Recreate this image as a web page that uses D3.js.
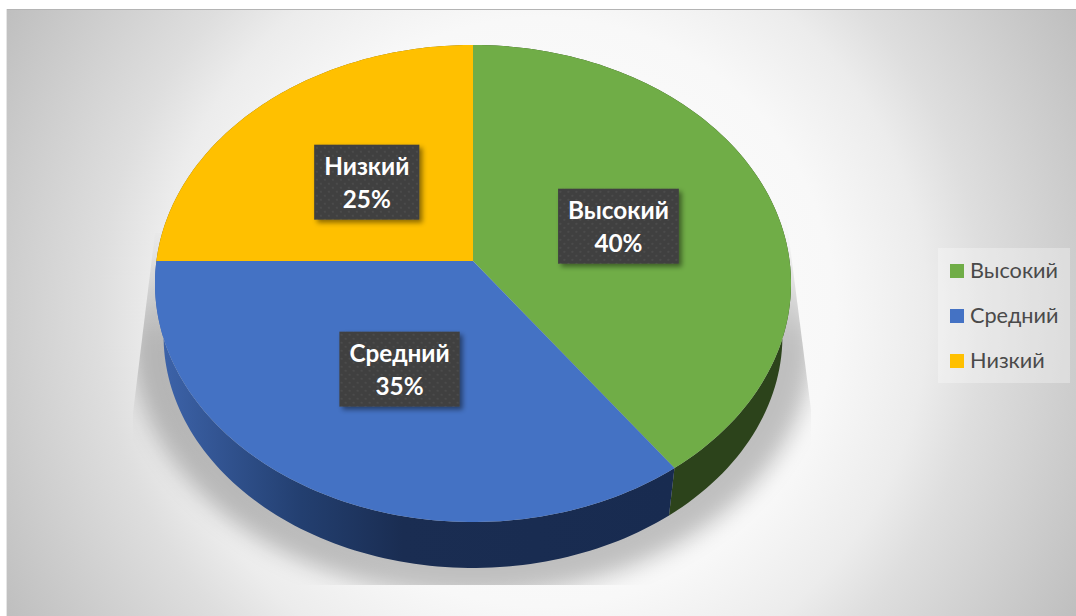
<!DOCTYPE html>
<html><head><meta charset="utf-8">
<script src="https://cdnjs.cloudflare.com/ajax/libs/d3/7.8.5/d3.min.js"></script>
<style>html,body{margin:0;padding:0;background:#fff;overflow:hidden}svg{display:block}</style>
</head><body>
<svg id="chart" width="1076" height="616"></svg>
<script>
const categories = ["Высокий", "Средний", "Низкий"];
const shares = [40, 35, 25];
const faceColors = ["#70ad47", "#4472c4", "#ffc000"];
const FONT = "Lato, 'Open Sans', 'Noto Sans', sans-serif";

const svg = d3.select("#chart");
const defs = svg.append("defs");
const color = d3.scaleOrdinal(categories, faceColors);

// Tilted disc: a projective map of the unit circle, so the slices meet off the ellipse centre.
const apex = { x: 473, y: 261 };
const tilt = 0.0943, radiusX = 316.6, radiusY = 236.4;
function rim(angle, frac = 1) {
  const u = Math.sin(angle) * frac, v = -Math.cos(angle) * frac, d = 1 - tilt * v;
  return [radiusX * u / d, radiusY * v / d];
}
const topPoint = (a, f) => { const [x, y] = rim(a, f); return [apex.x + x, apex.y + y]; };
const floorScale = 0.973, floorY = 314;
const floorPoint = a => { const [x, y] = rim(a); return [apex.x + x * floorScale, floorY + y * floorScale]; };

const slices = d3.pie().sort(null).startAngle(0).endAngle(2 * Math.PI)(shares)
  .map((s, i) => ({ ...s, name: categories[i] }));
const arcAngles = s => d3.range(0, 97).map(k => s.startAngle + (s.endAngle - s.startAngle) * k / 96);
const line = d3.line();

// Panel background
const bg = defs.append("radialGradient").attr("id", "panelFill")
  .attr("gradientUnits", "userSpaceOnUse").attr("cx", 541).attr("cy", 312).attr("r", 613);
[[0, "#ffffff"], [0.48, "#f8f8f8"], [0.63, "#ececec"], [0.72, "#dedede"], [1, "#bfbfbf"]]
  .forEach(([o, c]) => bg.append("stop").attr("offset", o).attr("stop-color", c));
svg.append("rect").attr("x", 6).attr("y", 9).attr("width", 1070).attr("height", 607).attr("fill", "url(#panelFill)");
svg.append("line").attr("x1", 6).attr("x2", 1076).attr("y1", 9.5).attr("y2", 9.5).attr("stroke", "#b4b4b4");
svg.append("line").attr("x1", 6.5).attr("x2", 6.5).attr("y1", 9).attr("y2", 616).attr("stroke", "#e6e6e6");

// Cast shadow: blurred, enlarged copy of the disc trimmed to a widening band
defs.append("filter").attr("id", "softShadow").attr("x", "-20%").attr("y", "-20%").attr("width", "140%").attr("height", "140%")
  .append("feGaussianBlur").attr("stdDeviation", 11);
defs.append("clipPath").attr("id", "shadowBand").append("polygon")
  .attr("points", "155,233 133,413 133,585 811,585 811,410 786,215");
const shadowFade = defs.append("linearGradient").attr("id", "shadowFade").attr("gradientUnits", "userSpaceOnUse")
  .attr("x1", 0).attr("x2", 0).attr("y1", 225).attr("y2", 340);
[[0, 0], [1, 0.23]].forEach(([o, a]) =>
  shadowFade.append("stop").attr("offset", o).attr("stop-color", "#000").attr("stop-opacity", a));
const circle = d3.range(0, 181).map(k => k * Math.PI / 90);
svg.append("g").attr("clip-path", "url(#shadowBand)")
  .append("path")
  .attr("d", line(circle.map(a => { const [x, y] = rim(a); return [apex.x + x * 1.07, 316 + y * 1.07]; })) + "Z")
  .attr("fill", "url(#shadowFade)").attr("filter", "url(#softShadow)");

// Disc edge
const blueSide = defs.append("linearGradient").attr("id", "sideBlue").attr("gradientUnits", "userSpaceOnUse")
  .attr("x1", 165).attr("x2", 670).attr("y1", 0).attr("y2", 0);
[[0, "#3c62a8"], [0.27, "#233f70"], [0.47, "#1a2d52"], [1, "#182b50"]]
  .forEach(([o, c]) => blueSide.append("stop").attr("offset", o).attr("stop-color", c));
const sideFill = { "Высокий": "#2c431b", "Средний": "url(#sideBlue)", "Низкий": "#7f6000" };
svg.append("g").selectAll("path").data(slices).join("path")
  .attr("d", s => {
    const angles = arcAngles(s);
    return line(angles.map(a => topPoint(a)).concat(angles.slice().reverse().map(floorPoint))) + "Z";
  })
  .attr("fill", s => sideFill[s.name]);

// Top faces
svg.append("g").selectAll("path").data(slices).join("path")
  .attr("d", s => line([[apex.x, apex.y], ...arcAngles(s).map(a => topPoint(a))]) + "Z")
  .attr("fill", s => color(s.name));

// Data labels
const dots = defs.append("pattern").attr("id", "dots").attr("patternUnits", "userSpaceOnUse")
  .attr("width", 8).attr("height", 8);
dots.append("rect").attr("width", 8).attr("height", 8).attr("fill", "#3f3f3f");
[[2, 2], [6, 6]].forEach(([x, y]) => dots.append("circle").attr("cx", x).attr("cy", y).attr("r", 1.1).attr("fill", "#4e4e4e"));
const lift = defs.append("filter").attr("id", "labelShadow").attr("x", "-20%").attr("y", "-20%").attr("width", "150%").attr("height", "150%");
lift.append("feDropShadow").attr("dx", 3).attr("dy", 3).attr("stdDeviation", 2.5).attr("flood-color", "#000").attr("flood-opacity", 0.45);

const labels = svg.append("g").selectAll("g").data(slices).join("g")
  .attr("transform", s => `translate(${topPoint((s.startAngle + s.endAngle) / 2, 0.49)})`);
labels.append("rect").attr("y", -37).attr("height", 75)
  .attr("fill", "url(#dots)").attr("filter", "url(#labelShadow)");
const nameText = labels.append("text").attr("text-anchor", "middle").attr("y", -7)
  .attr("font-family", FONT).attr("font-weight", 700).attr("font-size", 24.3).attr("fill", "#fff")
  .text(s => s.name);
labels.append("text").attr("text-anchor", "middle").attr("y", 26)
  .attr("font-family", FONT).attr("font-weight", 700).attr("font-size", 24.3).attr("fill", "#fff")
  .text(s => `${s.data}%`);
nameText.each(function () {
  const w = this.getComputedTextLength();
  d3.select(this.parentNode).select("rect").attr("x", -w / 2 - 10).attr("width", w + 20);
});

// Legend
svg.append("rect").attr("x", 938).attr("y", 248).attr("width", 132).attr("height", 135)
  .attr("fill", "#fff").attr("fill-opacity", 0.3);
const legendY = d3.scalePoint(categories, [271, 361]);
const legend = svg.append("g").selectAll("g").data(categories).join("g")
  .attr("transform", d => `translate(950,${legendY(d)})`);
legend.append("rect").attr("y", -7).attr("width", 14).attr("height", 14).attr("fill", d => color(d));
legend.append("text").attr("x", 20).attr("y", 6.5)
  .attr("font-family", FONT).attr("font-size", 21.7).attr("fill", "#4a4a4a").text(d => d);
</script>
</body></html>
